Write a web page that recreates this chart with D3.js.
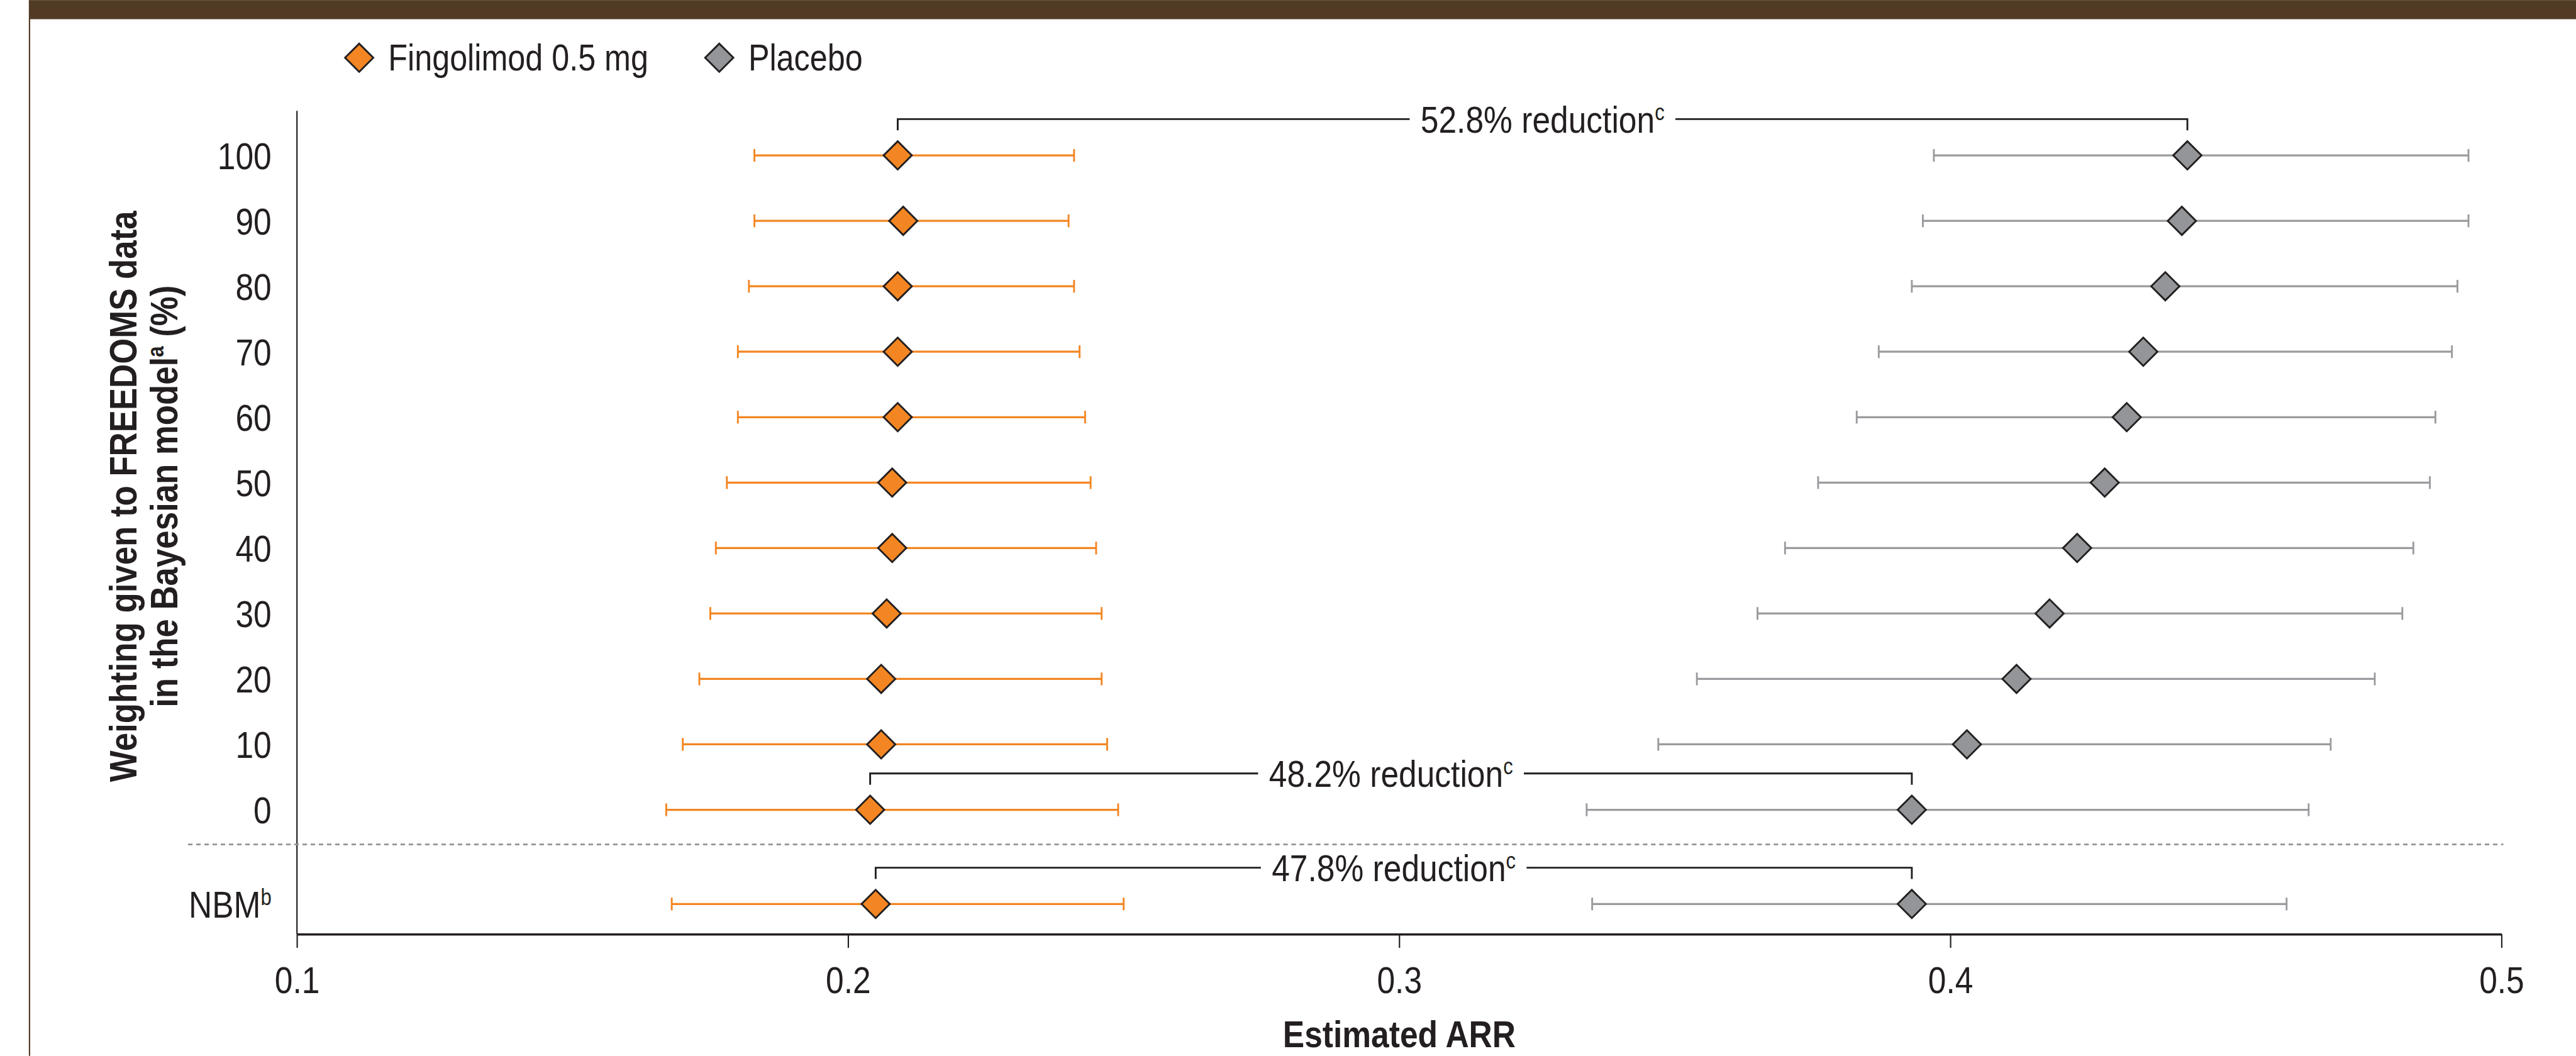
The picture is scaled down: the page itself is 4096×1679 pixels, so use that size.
<!DOCTYPE html>
<html lang="en">
<head>
    <meta charset="UTF-8"/>
    <title>Estimated ARR by weighting of FREEDOMS data</title>
    <script src="https://d3js.org/d3.v7.min.js"></script>
    <style>
        body,
        html {
            margin: 0;
            padding: 0;
            background: #fff;
            overflow: hidden;
        }

        svg {
            display: block;
            font-family: "Liberation Sans", Arial, sans-serif;
        }
    </style>
</head>
<body>
<svg class="chart"></svg>
<script>
    // rows, top to bottom
    const rowLabels = ["100", "90", "80", "70", "60", "50", "40", "30", "20", "10", "0", "NBM"];

    // fingolimod 0.5 mg: estimate and 95% interval
    const fingoEst = [0.209, 0.210, 0.209, 0.209, 0.209, 0.208, 0.208, 0.207, 0.206, 0.206, 0.204, 0.205];
    const fingoLow = [0.183, 0.183, 0.182, 0.180, 0.180, 0.178, 0.176, 0.175, 0.173, 0.170, 0.167, 0.168];
    const fingoHigh = [0.241, 0.240, 0.241, 0.242, 0.243, 0.244, 0.245, 0.246, 0.246, 0.247, 0.249, 0.250];

    // placebo
    const placeboEst = [0.443, 0.442, 0.439, 0.435, 0.432, 0.428, 0.423, 0.418, 0.412, 0.403, 0.393, 0.393];
    const placeboLow = [0.397, 0.395, 0.393, 0.387, 0.383, 0.376, 0.370, 0.365, 0.354, 0.347, 0.334, 0.335];
    const placeboHigh = [0.494, 0.494, 0.492, 0.491, 0.488, 0.487, 0.484, 0.482, 0.477, 0.469, 0.465, 0.461];

    const xTicks = [0.1, 0.2, 0.3, 0.4, 0.5];

    // reduction brackets
    const bracketRows = ["100", "0", "NBM"];
    const bracketText = ["52.8% reduction", "48.2% reduction", "47.8% reduction"];

    const seriesNames = ["Fingolimod 0.5 mg", "Placebo"];

    // drawing is done in reference units and scaled by the viewBox
    const W = 5673, H = 2325;
    const ink = "#231f20";
    const orange = "#f38622";
    const grey = "#939598";
    const fontSize = 83;
    const sq = 0.86; // horizontal squeeze, the original face is a condensed one

    const svg = d3.select(".chart")
        .attr("width", 4096)
        .attr("height", 1679)
        .attr("viewBox", `0 0 ${W} ${H}`);

    // frame: brown band on top and a thin line on the left
    svg.append("rect").attr("x", 64).attr("y", 0).attr("width", W - 64).attr("height", 42).attr("fill", "#523b25");
    svg.append("line").attr("x1", 65).attr("x2", 65).attr("y1", 0).attr("y2", H)
        .attr("stroke", "#523b25").attr("stroke-width", 3);

    const x = d3.scaleLinear().domain([0.1, 0.5]).range([654, 5509]);

    // weights are evenly spaced; the NBM row sits a bit further down
    const nbmGap = 1.44;
    const slot = d3.scaleLinear().domain([0, 10]).range([342, 1783]);
    const rowY = d3.scaleOrdinal()
        .domain(rowLabels)
        .range(rowLabels.map((d, i) => slot(i <= 10 ? i : 10 + nbmGap)));

    const rows = rowLabels.map((label, i) => ({
        label,
        groups: [
            {est: fingoEst[i], lo: fingoLow[i], hi: fingoHigh[i], color: orange, bar: orange},
            {est: placeboEst[i], lo: placeboLow[i], hi: placeboHigh[i], color: grey, bar: "#9a9b9e"}
        ]
    }));

    // x axis
    const xAxis = svg.append("g")
        .attr("transform", "translate(0,2057)")
        .call(d3.axisBottom(x).tickValues(xTicks).tickFormat(d3.format(".1f")).tickSize(30).tickSizeOuter(0).tickPadding(41))
        .attr("font-family", null);
    xAxis.select(".domain").attr("stroke", ink).attr("stroke-width", 5);
    xAxis.selectAll(".tick line").attr("stroke", ink).attr("stroke-width", 3);
    xAxis.selectAll(".tick text").attr("fill", ink).attr("font-size", fontSize)
        .attr("transform", `scale(${sq},1)`);

    svg.append("text")
        .attr("transform", `translate(${(x.range()[0] + x.range()[1]) / 2},2306) scale(${sq},1)`)
        .attr("text-anchor", "middle")
        .attr("font-size", fontSize)
        .attr("font-weight", "bold")
        .attr("fill", ink)
        .text("Estimated ARR");

    // y axis line (no ticks)
    svg.append("line")
        .attr("x1", 654).attr("x2", 654).attr("y1", 244).attr("y2", 2057)
        .attr("stroke", ink).attr("stroke-width", 3);

    const yAxis = svg.append("g")
        .attr("transform", "translate(654,0)")
        .call(d3.axisLeft(rowY).tickSize(0).tickPadding(56 / sq))
        .attr("font-family", null);
    yAxis.select(".domain").remove();
    yAxis.selectAll(".tick text").attr("fill", ink).attr("font-size", fontSize)
        .attr("dy", "0.36em")
        .attr("transform", `scale(${sq},1)`);
    yAxis.selectAll(".tick text").filter(d => d === "NBM")
        .text("NBM")
        .append("tspan").attr("font-size", 50).attr("dy", -28).text("b");

    // y title, two lines
    const yTitle = svg.append("text")
        .attr("transform", `translate(0,1093) rotate(-90) scale(${sq},1)`)
        .attr("text-anchor", "middle")
        .attr("font-size", 85)
        .attr("font-weight", "bold")
        .attr("fill", ink);
    yTitle.append("tspan").attr("x", 0).attr("y", 301).text("Weighting given to FREEDOMS data");
    yTitle.append("tspan").attr("x", 0).attr("y", 390).text("in the Bayesian model");
    yTitle.append("tspan").attr("font-size", 50).attr("dy", -30).text("a");
    yTitle.append("tspan").attr("dy", 30).text(" (%)");

    // separator between weighted rows and NBM
    svg.append("line")
        .attr("x1", 414).attr("x2", 5513)
        .attr("y1", slot(10 + 0.53)).attr("y2", slot(10 + 0.53))
        .attr("stroke", grey).attr("stroke-width", 4).attr("stroke-dasharray", "10,8");

    // reduction brackets
    const bracketRise = 80, bracketDrop = 25;
    bracketRows.forEach((r, k) => {
        const i = rowLabels.indexOf(r);
        const x1 = x(fingoEst[i]), x2 = x(placeboEst[i]);
        const y0 = rowY(r) - bracketRise;
        const cx = (x1 + x2) / 2;
        svg.append("path")
            .attr("d", `M${x1},${y0 + bracketDrop}V${y0}H${x2}V${y0 + bracketDrop}`)
            .attr("fill", "none").attr("stroke", ink).attr("stroke-width", 4);
        const gap = svg.append("rect").attr("fill", "#fff");
        const label = svg.append("text")
            .attr("transform", `translate(${cx},${y0}) scale(${sq},1)`)
            .attr("dy", "0.36em")
            .attr("text-anchor", "middle")
            .attr("font-size", fontSize)
            .attr("fill", ink)
            .text(bracketText[k]);
        label.append("tspan").attr("font-size", 50).attr("dy", -28).text("c");
        const bb = label.node().getBBox();
        const w = bb.width * sq;
        gap.attr("x", cx + bb.x * sq - 24).attr("y", y0 - 20).attr("width", w + 48).attr("height", 40);
    });

    // error bars and diamonds
    const capH = 28;
    const diamond = d3.symbol(d3.symbolSquare, 1936);
    const rowG = svg.append("g").selectAll("g")
        .data(rows)
        .join("g")
        .attr("transform", d => `translate(0,${rowY(d.label)})`);

    const grp = rowG.selectAll("g")
        .data(d => d.groups)
        .join("g");

    grp.append("line")
        .attr("x1", d => x(d.lo)).attr("x2", d => x(d.hi))
        .attr("stroke", d => d.bar).attr("stroke-width", 4.5);
    grp.append("line")
        .attr("x1", d => x(d.lo)).attr("x2", d => x(d.lo))
        .attr("y1", -capH / 2).attr("y2", capH / 2)
        .attr("stroke", d => d.bar).attr("stroke-width", 4);
    grp.append("line")
        .attr("x1", d => x(d.hi)).attr("x2", d => x(d.hi))
        .attr("y1", -capH / 2).attr("y2", capH / 2)
        .attr("stroke", d => d.bar).attr("stroke-width", 4);
    grp.append("path")
        .attr("d", diamond)
        .attr("transform", d => `translate(${x(d.est)},0) rotate(45)`)
        .attr("fill", d => d.color)
        .attr("stroke", ink).attr("stroke-width", 4);

    // legend
    const legendX = [791, 1584];
    const legendColors = [orange, grey];
    const legend = svg.append("g").selectAll("g")
        .data(seriesNames)
        .join("g")
        .attr("transform", (d, i) => `translate(${legendX[i]},127)`);
    legend.append("path")
        .attr("d", diamond)
        .attr("transform", "rotate(45)")
        .attr("fill", (d, i) => legendColors[i])
        .attr("stroke", ink).attr("stroke-width", 4);
    legend.append("text")
        .attr("transform", `translate(64,28) scale(${sq},1)`)
        .attr("font-size", 81)
        .attr("fill", ink)
        .text(d => d);
</script>
</body>
</html>
